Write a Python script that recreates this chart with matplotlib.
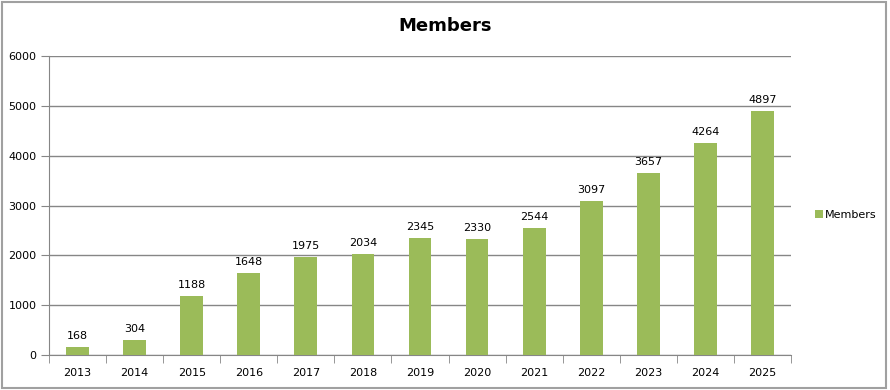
import numpy as np
import matplotlib
matplotlib.use("Agg")
import matplotlib.pyplot as plt
from matplotlib.patches import Rectangle

years = ["2013", "2014", "2015", "2016", "2017", "2018", "2019",
         "2020", "2021", "2022", "2023", "2024", "2025"]
members = [168, 304, 1188, 1648, 1975, 2034, 2345, 2330, 2544, 3097, 3657, 4264, 4897]

plt.rcParams['font.family'] = ['DejaVu Sans']
green = '#9BBB59'
gray = '#868686'

fig = plt.figure(figsize=(8.9, 3.9), dpi=100)
ax = fig.add_axes([49 / 890, 1 - 355 / 390, 742 / 890, 299 / 390])

x = np.arange(len(years))
bars = ax.bar(x, members, width=0.4, color=green, label='Members', zorder=3)
for xi, v in zip(x, members):
    ax.text(xi, v + 120, str(v), ha='center', va='bottom', fontsize=8, color='black')

ax.set_xlim(-0.5, len(years) - 0.5)
ax.set_ylim(0, 6000)
ax.set_yticks(range(0, 6001, 1000))
ax.set_xticks(x)
ax.set_xticklabels(years)
ax.set_xticks(np.arange(-0.5, len(years)), minor=True)
ax.tick_params(axis='x', which='major', length=0, pad=9, labelsize=8)
ax.tick_params(axis='x', which='minor', length=6, color=gray, direction='out')
ax.tick_params(axis='y', length=6, color=gray, labelsize=8, pad=3)
ax.grid(axis='y', color=gray, linewidth=1, zorder=0)
for s in ('top', 'right'):
    ax.spines[s].set_visible(False)
for s in ('left', 'bottom'):
    ax.spines[s].set_color(gray)

fig.text(445 / 890, 1 - 26 / 390, 'Members', ha='center', va='center',
         fontsize=13, fontweight='bold')
ax.legend(loc='center left', bbox_to_anchor=(805 / 890, 1 - 215 / 390),
          bbox_transform=fig.transFigure, frameon=False, fontsize=8,
          handlelength=0.7, handleheight=0.7, handletextpad=0.2)

fig.patches.append(Rectangle((0.002, 0.004), 0.993, 0.99, transform=fig.transFigure,
                             fill=False, edgecolor='#a0a0a0', linewidth=1.5))

fig.savefig('out.png', dpi=100, facecolor='white')
